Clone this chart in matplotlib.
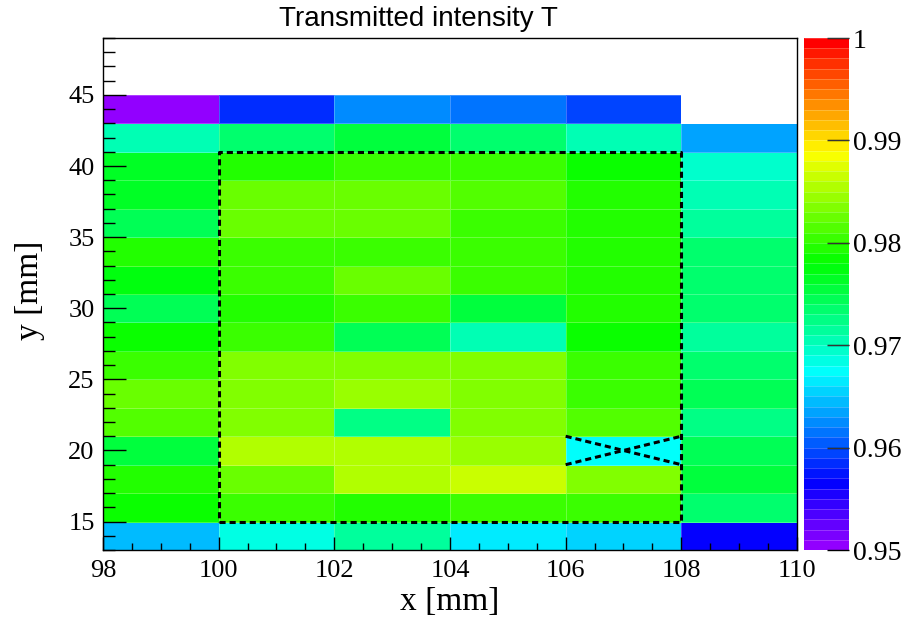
import colorsys

import matplotlib
matplotlib.use("Agg")
import matplotlib.pyplot as plt
from matplotlib.colors import ListedColormap
from matplotlib.ticker import MultipleLocator
import numpy as np


# bin edges in mm
x_edges = [98, 100, 102, 104, 106, 108, 110]
y_edges = [13, 15, 17, 19, 21, 23, 25, 27, 29, 31, 33, 35, 37, 39, 41, 43, 45]

# transmitted intensity, rows from top (y = 43..45) to bottom (y = 13..15)
T_rows = [
    [0.9505, 0.9585, 0.9625, 0.9615, 0.9595, np.nan],
    [0.9705, 0.9735, 0.9755, 0.9735, 0.9705, 0.9635],
    [0.9765, 0.9795, 0.9805, 0.9805, 0.9785, 0.9695],
    [0.9765, 0.9825, 0.9825, 0.9815, 0.9795, 0.9705],
    [0.9745, 0.9825, 0.9825, 0.9805, 0.9795, 0.9715],
    [0.9795, 0.9805, 0.9805, 0.9805, 0.9795, 0.9735],
    [0.9775, 0.9805, 0.9825, 0.9805, 0.9795, 0.9735],
    [0.9745, 0.9795, 0.9805, 0.9755, 0.9795, 0.9735],
    [0.9785, 0.9805, 0.9745, 0.9705, 0.9785, 0.9715],
    [0.9805, 0.9835, 0.9835, 0.9835, 0.9805, 0.9735],
    [0.9825, 0.9835, 0.9845, 0.9835, 0.9805, 0.9745],
    [0.9815, 0.9835, 0.9725, 0.9835, 0.9815, 0.9725],
    [0.9755, 0.9855, 0.9855, 0.9845, 0.9675, 0.9745],
    [0.9795, 0.9825, 0.9855, 0.9865, 0.9835, 0.9755],
    [0.9785, 0.9805, 0.9795, 0.9805, 0.9805, 0.9735],
    [0.9645, 0.9685, 0.9715, 0.9665, 0.9655, 0.9565],
]

# selected region (dashed box) and excluded cell (dashed cross)
box_x = [100, 108, 108, 100, 100]
box_y = [15, 15, 41, 41, 15]
cross_x = [106, 108]
cross_y = [19, 21]

z_min, z_max = 0.95, 1.0
cbar_ticks = [0.95, 0.96, 0.97, 0.98, 0.99, 1.0]
cbar_labels = ["0.95", "0.96", "0.97", "0.98", "0.99", "1"]

# ROOT "pretty" palette: 50 colours violet -> red
pal = []
for i in range(50):
    hue = max(280 - (i + 1) * 5.6, 0)
    pal.append(colorsys.hls_to_rgb(hue / 360.0, 0.5, 1.0))
cmap = ListedColormap(pal)
cmap.set_bad("white")

T = np.ma.masked_invalid(np.flipud(np.array(T_rows)))

plt.rcParams["font.family"] = ["Liberation Serif", "DejaVu Serif"]

fig = plt.figure(figsize=(9.03, 6.18), dpi=100)
ax = fig.add_axes([0.114, 0.110, 0.7686, 0.8285])

mesh = ax.pcolormesh(x_edges, y_edges, T, cmap=cmap, vmin=z_min, vmax=z_max,
                     edgecolors=(1, 1, 1, 0.25), linewidth=0.5)

ax.plot(box_x, box_y, color="black", lw=2.2, ls=(0, (2, 1.3)))
ax.plot(cross_x, cross_y, color="black", lw=2.2, ls=(0, (2, 1.3)))
ax.plot(cross_x, cross_y[::-1], color="black", lw=2.2, ls=(0, (2, 1.3)))

ax.set_xlim(98, 110)
ax.set_ylim(13, 49)
ax.xaxis.set_major_locator(MultipleLocator(2))
ax.xaxis.set_minor_locator(MultipleLocator(0.5))
ax.yaxis.set_major_locator(MultipleLocator(5))
ax.yaxis.set_minor_locator(MultipleLocator(1))
ax.tick_params(axis="x", which="major", direction="in", length=9.5, width=1, labelsize=19, pad=7)
ax.tick_params(axis="x", which="minor", direction="in", length=5, width=1)
ax.tick_params(axis="y", which="major", direction="in", length=16.5, width=1, labelsize=19, pad=6)
ax.tick_params(axis="y", which="minor", direction="in", length=8.5, width=1)
for s in ax.spines.values():
    s.set_linewidth(1)

cax = fig.add_axes([0.890, 0.110, 0.050, 0.8285])
cb = fig.colorbar(mesh, cax=cax, ticks=cbar_ticks)
cb.ax.set_yticklabels(cbar_labels)
cb.outline.set_visible(False)
cb.ax.tick_params(direction="in", length=16, width=1, labelsize=20, pad=3)
cb.ax.hlines(np.arange(z_min, z_max, 0.001), 0, 1, colors="white", alpha=0.3, lw=0.5)

fig.text(0.463, 0.969, "Transmitted intensity T", ha="center", va="center",
         fontsize=20, family=["Liberation Sans", "DejaVu Sans"])
fig.text(0.498, 0.027, "x [mm]", ha="center", va="center", fontsize=24)
fig.text(0.033, 0.53, "y [mm]", ha="center", va="center", fontsize=24, rotation=90)

fig.savefig("out.png", dpi=100)
